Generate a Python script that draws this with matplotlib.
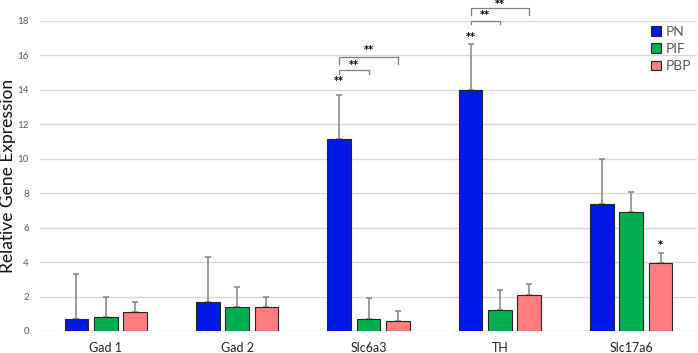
import matplotlib.pyplot as plt
import numpy as np

plt.rcParams['font.family'] = ['Lato', 'DejaVu Sans']

genes = ['Gad 1', 'Gad 2', 'Slc6a3', 'TH', 'Slc17a6']
groups = ['PN', 'PIF', 'PBP']

pn = [0.68, 1.70, 11.13, 14.0, 7.4]
pn_err = [2.61, 2.61, 2.59, 2.65, 2.6]
pif = [0.83, 1.37, 0.70, 1.20, 6.9]
pif_err = [1.17, 1.18, 1.20, 1.16, 1.15]
pbp = [1.09, 1.37, 0.58, 2.11, 3.93]
pbp_err = [0.58, 0.59, 0.58, 0.60, 0.58]

colors = ['#0019e6', '#00b04f', '#ff7c80']

fig = plt.figure(figsize=(6.98, 3.53), dpi=100)
ax = fig.add_axes([40 / 698, 22 / 353, 657 / 698, 310 / 353])

x = np.arange(len(genes))
w = 0.18
step = 0.223
series = [(pn, pn_err), (pif, pif_err), (pbp, pbp_err)]
for i, (vals, errs) in enumerate(series):
    ax.bar(x + (i - 1) * step, vals, w, color=colors[i], edgecolor='#262626',
           linewidth=0.8, label=groups[i], zorder=3,
           yerr=[np.zeros(len(errs)), errs],
           error_kw=dict(ecolor='#8c8c8c', elinewidth=1.2, capsize=2.5, capthick=1.2, zorder=2))

ax.set_xlim(-0.5, 4.5)
ax.set_ylim(0, 18)
ax.set_yticks(range(0, 19, 2))
ax.set_xticks(x)
ax.set_xticklabels(genes, fontsize=9, color='#262626')
ax.tick_params(axis='y', labelsize=7, labelcolor='#595959', length=0, pad=8)
ax.tick_params(axis='x', length=0, pad=8)
ax.grid(axis='y', color='#d9d9d9', linewidth=1, zorder=0)
for s in ax.spines.values():
    s.set_visible(False)
ax.set_ylabel('Relative Gene Expression', fontsize=12.5, color='#111111')
ax.yaxis.set_label_coords(-0.036, 0.5)

# significance stars
def stars(xp, y, txt):
    ax.text(xp, y, txt, ha='center', va='center', fontsize=7, fontweight='bold',
            family='DejaVu Sans', clip_on=False)

def bracket(x0, x1, y, leg, txt, ty):
    ax.plot([x0, x0, x1, x1], [y - leg, y, y, y - leg], color='#7f7f7f', lw=0.9, clip_on=False)
    stars((x0 + x1) / 2, ty, txt)

stars(2 - step, 14.5, '**')
bracket(2 - step, 2, 15.14, 0.2, '**', 15.45)
bracket(2 - step, 2 + step, 15.93, 0.4, '**', 16.3)
stars(3 - step, 17.09, '**')
bracket(3 - step, 3, 18.0, 0.2, '**', 18.32)
bracket(3 - step, 3 + step, 18.76, 0.4, '**', 19.0)
stars(4 + step, 5.0, '*')

leg = ax.legend(loc='upper right', bbox_to_anchor=(1.01, 1.025), frameon=False, fontsize=10,
                handlelength=0.7, handleheight=0.7, handletextpad=0.35, labelspacing=0.38)
for t in leg.get_texts():
    t.set_color('#595959')

fig.savefig('out.png', dpi=100)
